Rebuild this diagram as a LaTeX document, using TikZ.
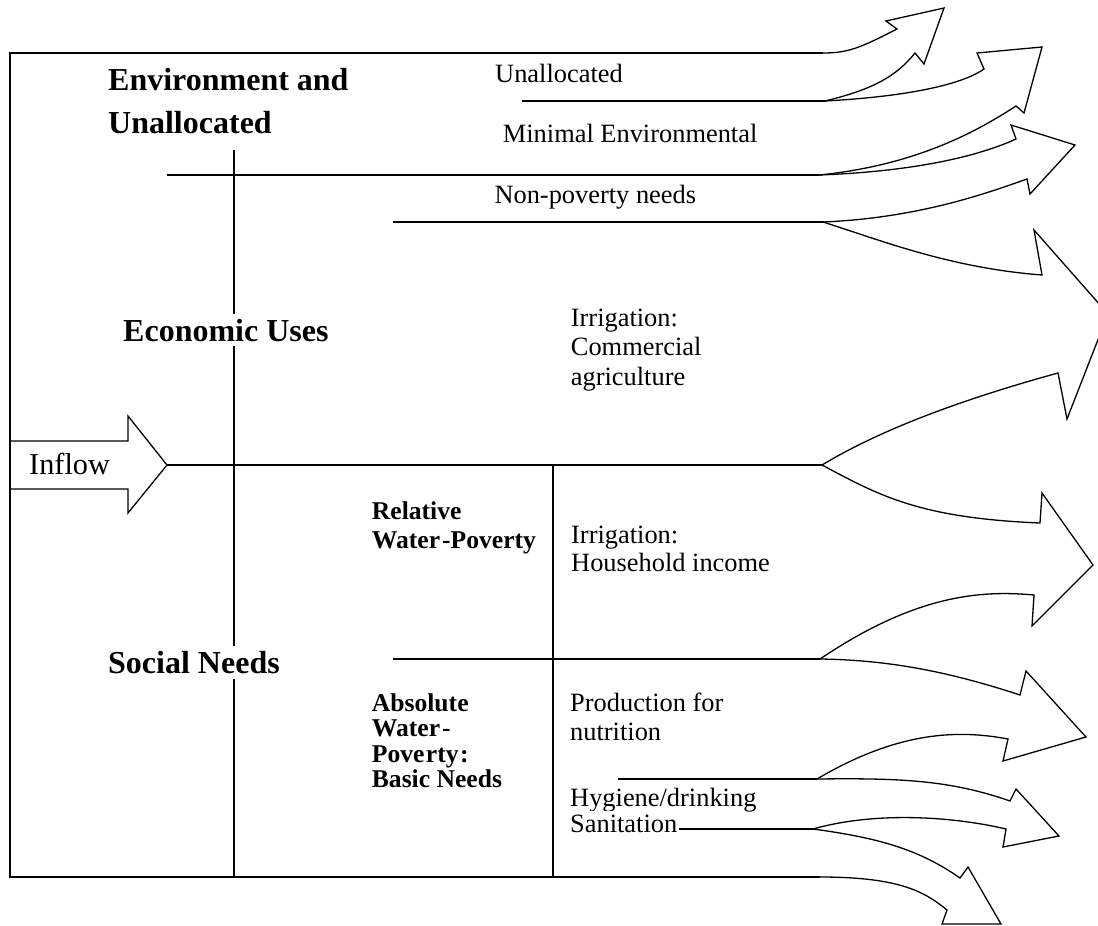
\documentclass[tikz,border=0pt]{standalone}
\usepackage{fontspec}
\setmainfont{Liberation Serif}
\begin{document}
\begin{tikzpicture}[x=1pt,y=-1pt,
  ln/.style={line width=1.3pt,line cap=butt},
  arr/.style={line width=1.3pt,line join=miter},
  txt/.style={anchor=base west,inner sep=0pt,font=\fontsize{26.4}{30}\selectfont},
  hd/.style={anchor=base west,inner xsep=0pt,inner ysep=5pt,fill=white,font=\fontsize{32}{42}\selectfont\bfseries},
  sb/.style={anchor=base west,inner sep=0pt,font=\fontsize{25.6}{30}\selectfont\bfseries}]
\useasboundingbox (0,0) rectangle (1098,926);
% frame and dividers
\coordinate (tl) at (10,53);
\coordinate (tr) at (823,53);
\coordinate (bl) at (10,877);
\coordinate (br) at (820,877);
\coordinate (v1t) at (234,150);
\coordinate (v1b) at (234,877);
\coordinate (v2t) at (553,465);
\coordinate (v2b) at (553,877);
\coordinate (h1a) at (522,101);   \coordinate (h1b) at (825,101);
\coordinate (h2a) at (167,175);   \coordinate (h2b) at (819,175);
\coordinate (h3a) at (393,222);   \coordinate (h3b) at (823,222);
\coordinate (h4a) at (167,465);   \coordinate (h4b) at (822,465);
\coordinate (h5a) at (393,659);   \coordinate (h5b) at (820,659);
\coordinate (h6a) at (618,779);   \coordinate (h6b) at (817,779);
\coordinate (h7a) at (619,829);   \coordinate (h7b) at (813,829);
\draw[ln] (tr) -- (tl) -- (bl) -- (br);
\draw[ln] (v1t) -- (v1b);
\draw[ln] (v2t) -- (v2b);
\draw[ln] (h1a) -- (h1b);
\draw[ln] (h2a) -- (h2b);
\draw[ln] (h3a) -- (h3b);
\draw[ln] (h4a) -- (h4b);
\draw[ln] (h5a) -- (h5b);
\draw[ln] (h6a) -- (h6b);
\draw[ln] (h7a) -- (h7b);
% inflow arrow
\draw[arr] (10,441) -- (128,441) -- (128,416) -- (h4a) -- (128,513) -- (128,489) -- (10,489);
\node[anchor=base west,inner sep=0pt,font=\fontsize{30.3}{34}\selectfont] (inflow) at (29,474) {Inflow};
% outgoing arrows
\draw[arr] (tr) .. controls (848,53) and (860,48) .. (897,29) -- (886,21) -- (944,8) -- (924,64) -- (915,53)
  .. controls (895,78) and (870,90) .. (h1b);
\draw[arr] (h1b) .. controls (900,97) and (960,86) .. (984,69) -- (977,53) -- (1042,47) -- (1024,113) -- (1016,106)
  .. controls (982,128) and (920,165) .. (h2b);
\draw[arr] (h2b) .. controls (900,172) and (970,160) .. (1016,139) -- (1011,125) -- (1075,145) -- (1030,194) -- (1027,179)
  .. controls (990,192) and (920,218) .. (h3b);
\draw[arr] (h3b) .. controls (880,240) and (950,268) .. (1042,275) -- (1034,230) -- (1108,314) -- (1067,419) -- (1058,373)
  .. controls (960,400) and (880,430) .. (h4b);
\draw[arr] (h4b) .. controls (880,496) and (920,518) .. (1040,523) -- (1042,493) -- (1093,565) -- (1032,626) -- (1034,595)
  .. controls (980,590) and (915,595) .. (h5b);
\draw[arr] (h5b) .. controls (890,660) and (950,672) .. (1020,695) -- (1026,671) -- (1086,737) -- (1003,761) -- (1008,739)
  .. controls (960,730) and (900,730) .. (h6b);
\draw[arr] (h6b) .. controls (900,778) and (950,780) .. (1010,801) -- (1016,789) -- (1059,836) -- (1003,847) -- (1006,829)
  .. controls (960,818) and (880,810) .. (h7b);
\draw[arr] (h7b) .. controls (880,838) and (920,850) .. (960,878) -- (968,867) -- (1001,924) -- (942,924) -- (947,910)
  .. controls (925,892) and (900,877) .. (br);
% headings
\node[hd] (env1) at (108,90.7) {Environment and};
\node[hd] (env2) at (108,133.3) {Unallocated};
\node[hd] (eco) at (123,341) {Economic Uses};
\node[hd] (soc) at (108,673.5) {Social Needs};
\node[sb] (rel1) at (371.7,519.3) {Relative};
\node[sb] (rel2) at (371.7,548.3) {Water\kern2pt-Poverty};
\node[sb] (abs1) at (371.7,711) {Absolute};
\node[sb] (abs2) at (371.7,736.5) {Water\kern2pt-};
\node[sb] (abs3) at (371.7,762) {Pove\kern1.5pt rty\kern1.5pt:};
\node[sb] (abs4) at (371.7,787.5) {Basic Needs};
% labels
\node[txt] (un) at (495,82.7) {Unallocated};
\node[txt] (me) at (502.7,142.7) {Minimal Environmental};
\node[txt] (np) at (494.3,203.3) {Non-poverty needs};
\node[txt] (ic1) at (570.7,326) {Irrigation:};
\node[txt] (ic2) at (570.7,355.5) {Commercial};
\node[txt] (ic3) at (570.7,385) {agriculture};
\node[txt] (ih1) at (571,543.5) {Irrigation:};
\node[txt] (ih2) at (571,571) {Household income};
\node[txt] (pn1) at (570,711) {Production for};
\node[txt] (pn2) at (570,740) {nutrition};
\node[txt] (hy) at (570,806) {Hygiene/drinking};
\node[txt,fill=white,inner xsep=2pt,inner ysep=4pt] (sa) at (568,832) {Sanitation};
\end{tikzpicture}
\end{document}
